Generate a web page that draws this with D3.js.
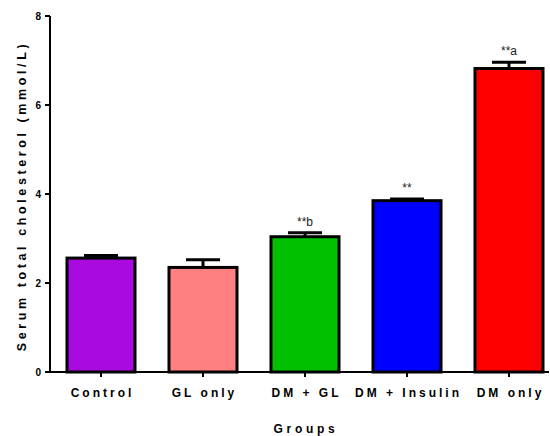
<!DOCTYPE html>
<html>
<head>
<meta charset="utf-8">
<script src="https://cdn.jsdelivr.net/npm/d3@7"></script>
<style>
  body { margin: 0; background: #fff; }
  text { font-family: "Liberation Sans", Arial, sans-serif; }
</style>
</head>
<body>
<div id="chart"></div>
<script>
const groups = ["Control", "GL only", "DM + GL", "DM + Insulin", "DM only"];
const means = [2.56, 2.35, 3.04, 3.85, 6.82];
const errors = [0.06, 0.17, 0.09, 0.04, 0.14];
const colors = ["#a80ae0", "#ff8080", "#00c000", "#0000ff", "#ff0000"];
const marks = ["", "", "**b", "**", "**a"];
const yTicks = [0, 2, 4, 6, 8];

const width = 550, height = 436;
const svg = d3.select("#chart").append("svg")
  .attr("width", width)
  .attr("height", height);

let x = d3.scaleBand()
  .domain(groups)
  .range([50, 560])
  .paddingInner(1 / 3)
  .paddingOuter(1 / 6);

let y = d3.scaleLinear()
  .domain([0, 8])
  .range([372, 16]);

// bars
svg.selectAll("rect.bar")
  .data(groups)
  .enter()
  .append("rect")
  .attr("class", "bar")
  .attr("x", d => x(d))
  .attr("y", (d, i) => y(means[i]))
  .attr("width", x.bandwidth())
  .attr("height", (d, i) => y(0) - y(means[i]))
  .attr("fill", (d, i) => colors[i])
  .attr("stroke", "#000")
  .attr("stroke-width", 3);

// error bars (upper only)
let cx = d => x(d) + x.bandwidth() / 2;
svg.selectAll("line.err")
  .data(groups)
  .enter()
  .append("line")
  .attr("x1", cx).attr("x2", cx)
  .attr("y1", (d, i) => y(means[i]))
  .attr("y2", (d, i) => y(means[i] + errors[i]))
  .attr("stroke", "#000")
  .attr("stroke-width", 3);

svg.selectAll("line.cap")
  .data(groups)
  .enter()
  .append("line")
  .attr("x1", d => cx(d) - x.bandwidth() / 4)
  .attr("x2", d => cx(d) + x.bandwidth() / 4)
  .attr("y1", (d, i) => y(means[i] + errors[i]))
  .attr("y2", (d, i) => y(means[i] + errors[i]))
  .attr("stroke", "#000")
  .attr("stroke-width", 3);

// significance marks
svg.selectAll("text.mark")
  .data(groups)
  .enter()
  .append("text")
  .attr("x", cx)
  .attr("y", (d, i) => y(means[i] + errors[i]) - 7)
  .attr("text-anchor", "middle")
  .style("font-size", "12px")
  .attr("fill", "#222")
  .text((d, i) => marks[i]);

// y axis
svg.append("line")
  .attr("x1", 50).attr("x2", 50)
  .attr("y1", y(8)).attr("y2", y(0))
  .attr("stroke", "#000").attr("stroke-width", 2);

svg.selectAll("line.ytick")
  .data(yTicks)
  .enter()
  .append("line")
  .attr("x1", 45).attr("x2", 50)
  .attr("y1", d => y(d)).attr("y2", d => y(d))
  .attr("stroke", "#000").attr("stroke-width", 2);

svg.selectAll("text.ylab")
  .data(yTicks)
  .enter()
  .append("text")
  .attr("x", 41)
  .attr("y", d => y(d) + 4)
  .attr("text-anchor", "end")
  .style("font-size", "10px")
  .style("font-weight", "bold")
  .text(d => d);

// x axis
svg.append("line")
  .attr("x1", 49).attr("x2", 549)
  .attr("y1", y(0)).attr("y2", y(0))
  .attr("stroke", "#000").attr("stroke-width", 2);

svg.selectAll("line.xtick")
  .data(groups)
  .enter()
  .append("line")
  .attr("x1", cx).attr("x2", cx)
  .attr("y1", y(0)).attr("y2", y(0) + 5)
  .attr("stroke", "#000").attr("stroke-width", 2);

svg.selectAll("text.xlab")
  .data(groups)
  .enter()
  .append("text")
  .attr("x", d => cx(d) + 1.5)
  .attr("y", 397)
  .attr("text-anchor", "middle")
  .style("font-size", "12px")
  .style("font-weight", "bold")
  .style("letter-spacing", "3px")
  .text(d => d);

// axis titles
svg.append("text")
  .attr("x", 306)
  .attr("y", 433)
  .attr("text-anchor", "middle")
  .style("font-size", "12px")
  .style("font-weight", "bold")
  .style("letter-spacing", "3.7px")
  .text("Groups");

svg.append("text")
  .attr("transform", "translate(26,196) rotate(-90)")
  .attr("text-anchor", "middle")
  .style("font-size", "12.5px")
  .style("font-weight", "bold")
  .style("letter-spacing", "3.6px")
  .text("Serum total cholesterol (mmol/L)");
</script>
</body>
</html>
